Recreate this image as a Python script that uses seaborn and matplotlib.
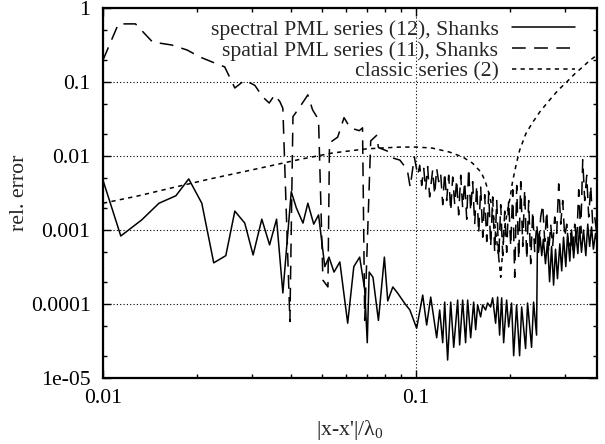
import matplotlib
matplotlib.use("Agg")
import matplotlib.pyplot as plt
import matplotlib.ticker as mticker
import seaborn as sns
import numpy as np

# spectral PML series (12), Shanks  -- solid
spec_x = [0.0100, 0.0114, 0.0133, 0.0151, 0.0171, 0.0188, 0.0207, 0.0226, 0.0247, 0.0264,
          0.0284, 0.0302, 0.0322, 0.0341, 0.0359, 0.0376, 0.0400, 0.0415, 0.0436, 0.0452,
          0.0472, 0.0489, 0.0512, 0.0528, 0.0548, 0.0572, 0.0606, 0.0634, 0.0662, 0.0687,
          0.0700, 0.0710, 0.0730, 0.0760, 0.0794, 0.0814, 0.0845, 0.0876, 0.0922, 0.0958,
          0.1007, 0.1053, 0.1084, 0.1117, 0.1167, 0.1193, 0.1220, 0.1238, 0.1265, 0.1294,
          0.1323, 0.1362, 0.1382, 0.1413, 0.1444, 0.1466, 0.1499, 0.1532, 0.1555, 0.1578,
          0.1613, 0.1637, 0.1673, 0.1698, 0.1736, 0.1762, 0.1801, 0.1828, 0.1855, 0.1883,
          0.1911, 0.1953, 0.1983, 0.2026, 0.2057, 0.2102, 0.2149, 0.2182, 0.2246, 0.2279,
          0.2347, 0.2382, 0.2435, 0.2452, 0.247, 0.250, 0.253, 0.256, 0.260, 0.264,
          0.268, 0.272, 0.276, 0.280, 0.284, 0.289, 0.293, 0.297, 0.302, 0.306,
          0.311, 0.315, 0.320, 0.325, 0.330, 0.334, 0.339, 0.344, 0.350, 0.355,
          0.360, 0.365, 0.370, 0.376, 0.380]
spec_y = [4.7e-3, 8.3e-4, 1.37e-3, 2.3e-3, 2.9e-3, 4.9e-3, 2.3e-3, 3.6e-4, 4.5e-4, 1.8e-3,
          1.24e-3, 4.6e-4, 1.4e-3, 6.3e-4, 1.4e-3, 1.41e-4, 3.3e-3, 2.0e-3, 1.24e-3, 2.3e-3,
          1.2e-3, 1.6e-3, 3.2e-4, 4.3e-4, 2.7e-4, 3.7e-4, 5.5e-5, 3.2e-4, 4.3e-4, 1.55e-4,
          3.0e-5, 2.7e-4, 2.3e-4, 6.0e-5, 4.3e-4, 1.1e-4, 1.7e-4, 1.4e-4, 1.02e-4, 8.3e-5,
          4.7e-5, 1.32e-4, 5.2e-5, 1.24e-4, 3.5e-5, 8.3e-5, 3.0e-5, 1.06e-4, 1.75e-5, 1.06e-4,
          2.6e-5, 1.13e-4, 2.8e-5, 1.13e-4, 3.0e-5, 1.13e-4, 3.5e-5, 1.06e-4, 4.5e-5, 9.7e-5,
          6.7e-5, 9.7e-5, 8.3e-5, 1.03e-4, 9.1e-5, 1.21e-4, 5.5e-5, 1.24e-4, 3.8e-5, 1.21e-4,
          3.0e-5, 1.13e-4, 4.9e-5, 1.03e-4, 2.0e-5, 9.7e-5, 2.0e-5, 9.1e-5, 2.5e-5, 1.03e-4,
          2.6e-5, 1.06e-4, 3.8e-5, 9.0e-4, 5.0e-4, 8.0e-4, 4.5e-4, 7.5e-4, 3.5e-4, 7.0e-4,
          2.0e-4, 6.0e-4, 1.8e-4, 5.5e-4, 2.2e-4, 6.5e-4, 2.8e-4, 8.0e-4, 3.2e-4, 9.0e-4,
          3.8e-4, 1.0e-3, 4.2e-4, 9.0e-4, 4.8e-4, 1.1e-3, 5.0e-4, 1.0e-3, 4.5e-4, 1.2e-3,
          6.0e-4, 1.1e-3, 5.5e-4, 9.0e-4, 7.0e-4]

# spatial PML series (11), Shanks  -- dashed
spat_x = [0.0100, 0.0112, 0.0127, 0.0144, 0.0166, 0.0186, 0.0204, 0.0228, 0.0245, 0.0264,
          0.0284, 0.0306, 0.0324, 0.0340, 0.0354, 0.0368, 0.0376, 0.0396, 0.0405, 0.0426,
          0.0452, 0.0468, 0.0489, 0.0505, 0.0524, 0.0530, 0.0563, 0.0590, 0.0617, 0.0660,
          0.0676, 0.0687, 0.0718, 0.0750, 0.0760, 0.0810, 0.0845, 0.0890, 0.0940, 0.0960,
          0.0990, 0.1015, 0.1030, 0.1045, 0.1061, 0.1076, 0.1092, 0.1108, 0.1133, 0.1150,
          0.1167, 0.1184, 0.1202, 0.1220, 0.1238, 0.1256, 0.1275, 0.1294, 0.1313, 0.1333,
          0.1352, 0.1372, 0.1393, 0.1413, 0.1434, 0.1456, 0.1477, 0.1499, 0.1521, 0.1544,
          0.1567, 0.1590, 0.1614, 0.1638, 0.1662, 0.1687, 0.1712, 0.1737, 0.1763, 0.1789,
          0.1816, 0.1843, 0.1870, 0.1898, 0.1926, 0.1954, 0.1983, 0.2013, 0.2043, 0.2073,
          0.2104, 0.2135, 0.2167, 0.2199, 0.2231, 0.2265, 0.2298, 0.2332, 0.2367, 0.2402,
          0.2438, 0.2474, 0.2510, 0.2548, 0.2586, 0.2624, 0.2663, 0.2702, 0.2742, 0.2783,
          0.2824, 0.2866, 0.2909, 0.2952, 0.2996, 0.3040, 0.3085, 0.3131, 0.3178, 0.3225,
          0.3273, 0.3321, 0.3371, 0.3421, 0.3471, 0.3523, 0.3575, 0.3628, 0.3682, 0.3737,
          0.3792]
spat_y = [0.198, 0.61, 0.61, 0.347, 0.316, 0.27, 0.218, 0.18, 0.16, 0.083,
          0.106, 0.09, 0.063, 0.052, 0.067, 0.054, 0.044, 5.8e-5, 0.034, 0.046,
          0.067, 0.042, 0.031, 2.1e-4, 1.7e-4, 0.015, 0.018, 0.033, 0.024, 0.022,
          0.024, 6.0e-5, 0.016, 0.019, 0.013, 0.0117, 0.0094, 0.0088, 0.0065, 0.0038,
          0.0097, 0.0055, 0.0075, 0.0040, 0.0068, 0.0035, 0.0072, 0.0028, 0.0065, 0.0030,
          0.0068, 0.0045, 0.0058, 0.0022, 0.0060, 0.0025, 0.0055, 0.0018, 0.0052, 0.0022,
          0.0048, 0.0016, 0.0055, 0.0020, 0.0045, 0.0014, 0.0068, 0.0018, 0.0045, 0.0012,
          0.0040, 0.0009, 0.0038, 0.0008, 0.0030, 0.0007, 0.0032, 0.0006, 0.0028, 0.0005,
          0.0025, 0.0004, 0.0022, 0.00045, 0.0018, 0.0005, 0.0025, 0.0006, 0.0035, 0.00023,
          0.0040, 0.0004, 0.0045, 0.0006, 0.0035, 0.0004, 0.0025, 0.00035, 0.0018, 0.0005,
          0.0012, 0.0006, 0.0015, 0.0022, 0.0007, 0.0018, 0.0005, 0.0012, 0.0006, 0.0015,
          0.0009, 0.0042, 0.0012, 0.0025, 0.0008, 0.0012, 0.0006, 0.0009, 0.0005, 0.0012,
          0.0007, 0.0035, 0.0009, 0.0089, 0.0025, 0.0055, 0.0015, 0.0040, 0.0012, 0.0015,
          0.0009]

# classic series (2)  -- short dashes
clas_x = [0.0100, 0.0130, 0.0170, 0.0220, 0.0280, 0.0340, 0.0426, 0.0543, 0.0697, 0.0889,
          0.1006, 0.1129, 0.1283, 0.1413, 0.1520, 0.1620, 0.1670, 0.1720, 0.1760, 0.1800,
          0.1840, 0.1870, 0.1920, 0.1960, 0.2000, 0.2040, 0.2100, 0.2150, 0.2250, 0.2360,
          0.2500, 0.2680, 0.2850, 0.3040, 0.3220, 0.3420, 0.3600, 0.3730, 0.3800]
clas_y = [0.0023, 0.0029, 0.0038, 0.0049, 0.0061, 0.0073, 0.0090, 0.0110, 0.0125, 0.0132,
          0.0132, 0.0128, 0.0113, 0.0097, 0.0080, 0.0060, 0.0045, 0.0030, 0.0019, 0.0010,
          0.00045, 0.00023, 0.0010, 0.0017, 0.0026, 0.0045, 0.0080, 0.0120, 0.0200, 0.028,
          0.040, 0.057, 0.077, 0.100, 0.128, 0.160, 0.195, 0.218, 0.232]

y_ticks = [1e-5, 1e-4, 1e-3, 1e-2, 1e-1, 1]
y_labels = ["1e-05", "0.0001", "0.001", "0.01", "0.1", "1"]
x_ticks = [0.01, 0.1]
x_labels = ["0.01", "0.1"]

sns.set_style("ticks")
plt.rcParams['font.family'] = ['Liberation Serif', 'DejaVu Serif']
plt.rcParams['mathtext.fontset'] = 'custom'
plt.rcParams['mathtext.rm'] = 'Liberation Serif'
plt.rcParams['mathtext.it'] = 'Liberation Serif:italic'

fs = 15.7
fig = plt.figure(figsize=(6.05, 4.44), dpi=100)
ax = fig.add_axes([103/605, 66/444, 494/605, 370/444])
ax.set_xscale('log')
ax.set_yscale('log')

sns.lineplot(x=spec_x, y=spec_y, ax=ax, color='k', lw=1.1, errorbar=None,
             label="spectral PML series (12), Shanks")
sns.lineplot(x=spat_x, y=spat_y, ax=ax, color='k', lw=1.1, errorbar=None,
             linestyle=(0, (9, 5.5)), label="spatial PML series (11), Shanks")
sns.lineplot(x=clas_x, y=clas_y, ax=ax, color='k', lw=1.1, errorbar=None,
             linestyle=(0, (2.8, 2.8)), label="classic series (2)")

ax.set_xlim(0.01, 0.38)
ax.set_ylim(1e-5, 1)

ax.yaxis.set_major_locator(mticker.FixedLocator(y_ticks))
ax.yaxis.set_major_formatter(mticker.FixedFormatter(y_labels))
ax.yaxis.set_minor_locator(mticker.LogLocator(base=10, subs=(2.0, 5.0), numticks=20))
ax.yaxis.set_minor_formatter(mticker.NullFormatter())
ax.xaxis.set_major_locator(mticker.FixedLocator(x_ticks))
ax.xaxis.set_major_formatter(mticker.FixedFormatter(x_labels))
ax.xaxis.set_minor_locator(mticker.LogLocator(base=10, subs=np.arange(2, 10), numticks=20))
ax.xaxis.set_minor_formatter(mticker.NullFormatter())

ax.grid(True, which='major', color='k', linestyle=(0, (1, 2)), linewidth=0.8)
ax.tick_params(which='both', direction='in', top=True, right=True, colors='k',
               labelsize=fs, width=1.0)
ax.tick_params(which='major', length=6, pad=8)
ax.tick_params(axis='y', which='major', pad=9)
ax.tick_params(which='minor', length=3)
for s in ax.spines.values():
    s.set_linewidth(1.6)
    s.set_color('k')

ax.set_xlabel("|x-x'|/λ$_0$", fontsize=fs, labelpad=7)
ax.set_ylabel("rel. error", fontsize=fs, labelpad=1)

leg = ax.legend(loc='upper right', bbox_to_anchor=(0.955, 0.968), frameon=False,
                markerfirst=False, fontsize=fs, handlelength=2.9, handletextpad=0.6,
                labelspacing=0.02, borderpad=0, borderaxespad=0)

fig.savefig("out.png", dpi=100)
